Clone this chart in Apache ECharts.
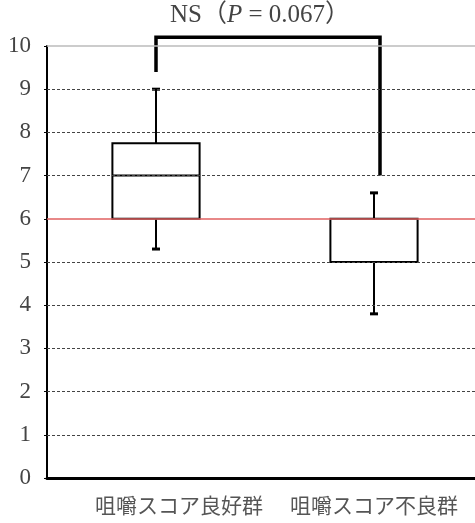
<!DOCTYPE html>
<html>
<head>
<meta charset="utf-8">
<script src="https://cdn.jsdelivr.net/npm/echarts@6/dist/echarts.min.js"></script>
<style>
html, body { margin: 0; padding: 0; background: #fff; }
#main { width: 475px; height: 523px; }
</style>
</head>
<body>
<div id="main"></div>
<script>
var categories = ['咀嚼スコア良好群', '咀嚼スコア不良群'];
// [min, Q1, median, Q3, max]
var goodGroup = [5.3, 6, 7, 7.75, 9];
var poorGroup = [3.8, 5, 5, 6, 6.6];
var dashedLines = [1, 2, 3, 4, 5, 7, 8, 9];
var refLine = 6;
var topLine = 10;
// bracket: left leg end, top, right leg end
var bracketLeft = 9.4;
var bracketTop = 10.2;
var bracketRight = 7;
var pValue = '0.067';

var boxData = [[0].concat(goodGroup), [1].concat(poorGroup)];

function renderBox(params, api) {
    var c = api.value(0);
    var half = api.size([1, 0])[0] * 0.2;
    var cap = 4;
    var pMin = api.coord([c, api.value(1)]);
    var pQ1 = api.coord([c, api.value(2)]);
    var pMed = api.coord([c, api.value(3)]);
    var pQ3 = api.coord([c, api.value(4)]);
    var pMax = api.coord([c, api.value(5)]);
    var x = pMin[0];
    var st = { stroke: '#000', lineWidth: 2 };
    var capSt = { stroke: '#000', lineWidth: 3 };
    return {
        type: 'group',
        children: [
            { type: 'line', shape: { x1: x, y1: pMin[1], x2: x, y2: pQ1[1] }, style: st },
            { type: 'line', shape: { x1: x, y1: pQ3[1], x2: x, y2: pMax[1] }, style: st },
            { type: 'line', shape: { x1: x - cap, y1: pMin[1], x2: x + cap, y2: pMin[1] }, style: capSt },
            { type: 'line', shape: { x1: x - cap, y1: pMax[1], x2: x + cap, y2: pMax[1] }, style: capSt },
            { type: 'rect', shape: { x: x - half, y: pQ3[1], width: half * 2, height: pQ1[1] - pQ3[1] },
              style: { fill: '#fff', stroke: '#000', lineWidth: 2 } },
            { type: 'line', shape: { x1: x - half, y1: pMed[1], x2: x + half, y2: pMed[1] }, style: st }
        ]
    };
}

function renderBracket(params, api) {
    var shift = 6;
    var a = api.coord([0, bracketLeft]);
    var b = api.coord([0, bracketTop]);
    var c = api.coord([1, bracketTop]);
    var d = api.coord([1, bracketRight]);
    return {
        type: 'polyline',
        shape: { points: [[a[0], a[1]], [b[0], b[1]], [c[0] + shift, c[1]], [d[0] + shift, d[1]]] },
        style: { stroke: '#000', lineWidth: 3.5, fill: null }
    };
}

var gridLines = dashedLines.map(function (v) {
    return { yAxis: v, lineStyle: { color: '#444', type: [3, 2], width: 1 } };
});
gridLines.push({ yAxis: refLine, lineStyle: { color: '#e06060', type: 'solid', width: 1.5, opacity: 1 } });
gridLines.push({ yAxis: topLine, lineStyle: { color: '#bbb', type: 'solid', width: 1.5 } });

var myChart = echarts.init(document.getElementById('main'));
var option = {
    animation: false,
    title: {
        text: 'NS（{i|P} = ' + pValue + '）',
        left: 170,
        top: 3,
        padding: 0,
        textStyle: {
            fontFamily: 'Liberation Serif, Noto Sans CJK JP',
            fontSize: 25,
            fontWeight: 'normal',
            color: '#444',
            rich: {
                i: { fontFamily: 'Liberation Serif', fontSize: 25, fontStyle: 'italic', color: '#444' }
            }
        }
    },
    grid: { left: 47, right: -8, top: 46, bottom: 45, outerBoundsMode: 'none' },
    xAxis: {
        type: 'category',
        data: categories,
        axisLine: { lineStyle: { color: '#000', width: 3 } },
        axisTick: { show: false },
        axisLabel: {
            interval: 0,
            margin: 17,
            fontFamily: 'Noto Sans CJK JP',
            fontSize: 21,
            color: '#555',
            formatter: function (v, i) {
                return i === 0 ? '{a|' + v + '}' : '{b|' + v + '}';
            },
            rich: {
                a: { padding: [0, 0, 0, 46], fontFamily: 'Noto Sans CJK JP', fontSize: 21, color: '#555' },
                b: { fontFamily: 'Noto Sans CJK JP', fontSize: 21, color: '#555' }
            }
        }
    },
    yAxis: {
        type: 'value',
        min: 0,
        max: 10,
        interval: 1,
        splitLine: { show: false },
        axisLine: { show: true, lineStyle: { color: '#000', width: 2 } },
        axisTick: { show: true, length: 3, lineStyle: { color: '#000' } },
        axisLabel: {
            margin: 16,
            padding: [4, 0, 0, 0],
            fontFamily: 'Liberation Serif',
            fontSize: 23,
            color: '#444'
        }
    },
    series: [
        {
            type: 'line',
            data: [],
            z: 1,
            markLine: {
                silent: true,
                symbol: ['none', 'none'],
                label: { show: false },
                emphasis: { disabled: true },
                data: gridLines
            }
        },
        {
            type: 'custom',
            z: 3,
            renderItem: renderBox,
            data: boxData
        },
        {
            type: 'custom',
            z: 4,
            clip: false,
            renderItem: renderBracket,
            data: [[0, 1]]
        }
    ]
};
myChart.setOption(option);
</script>
</body>
</html>
